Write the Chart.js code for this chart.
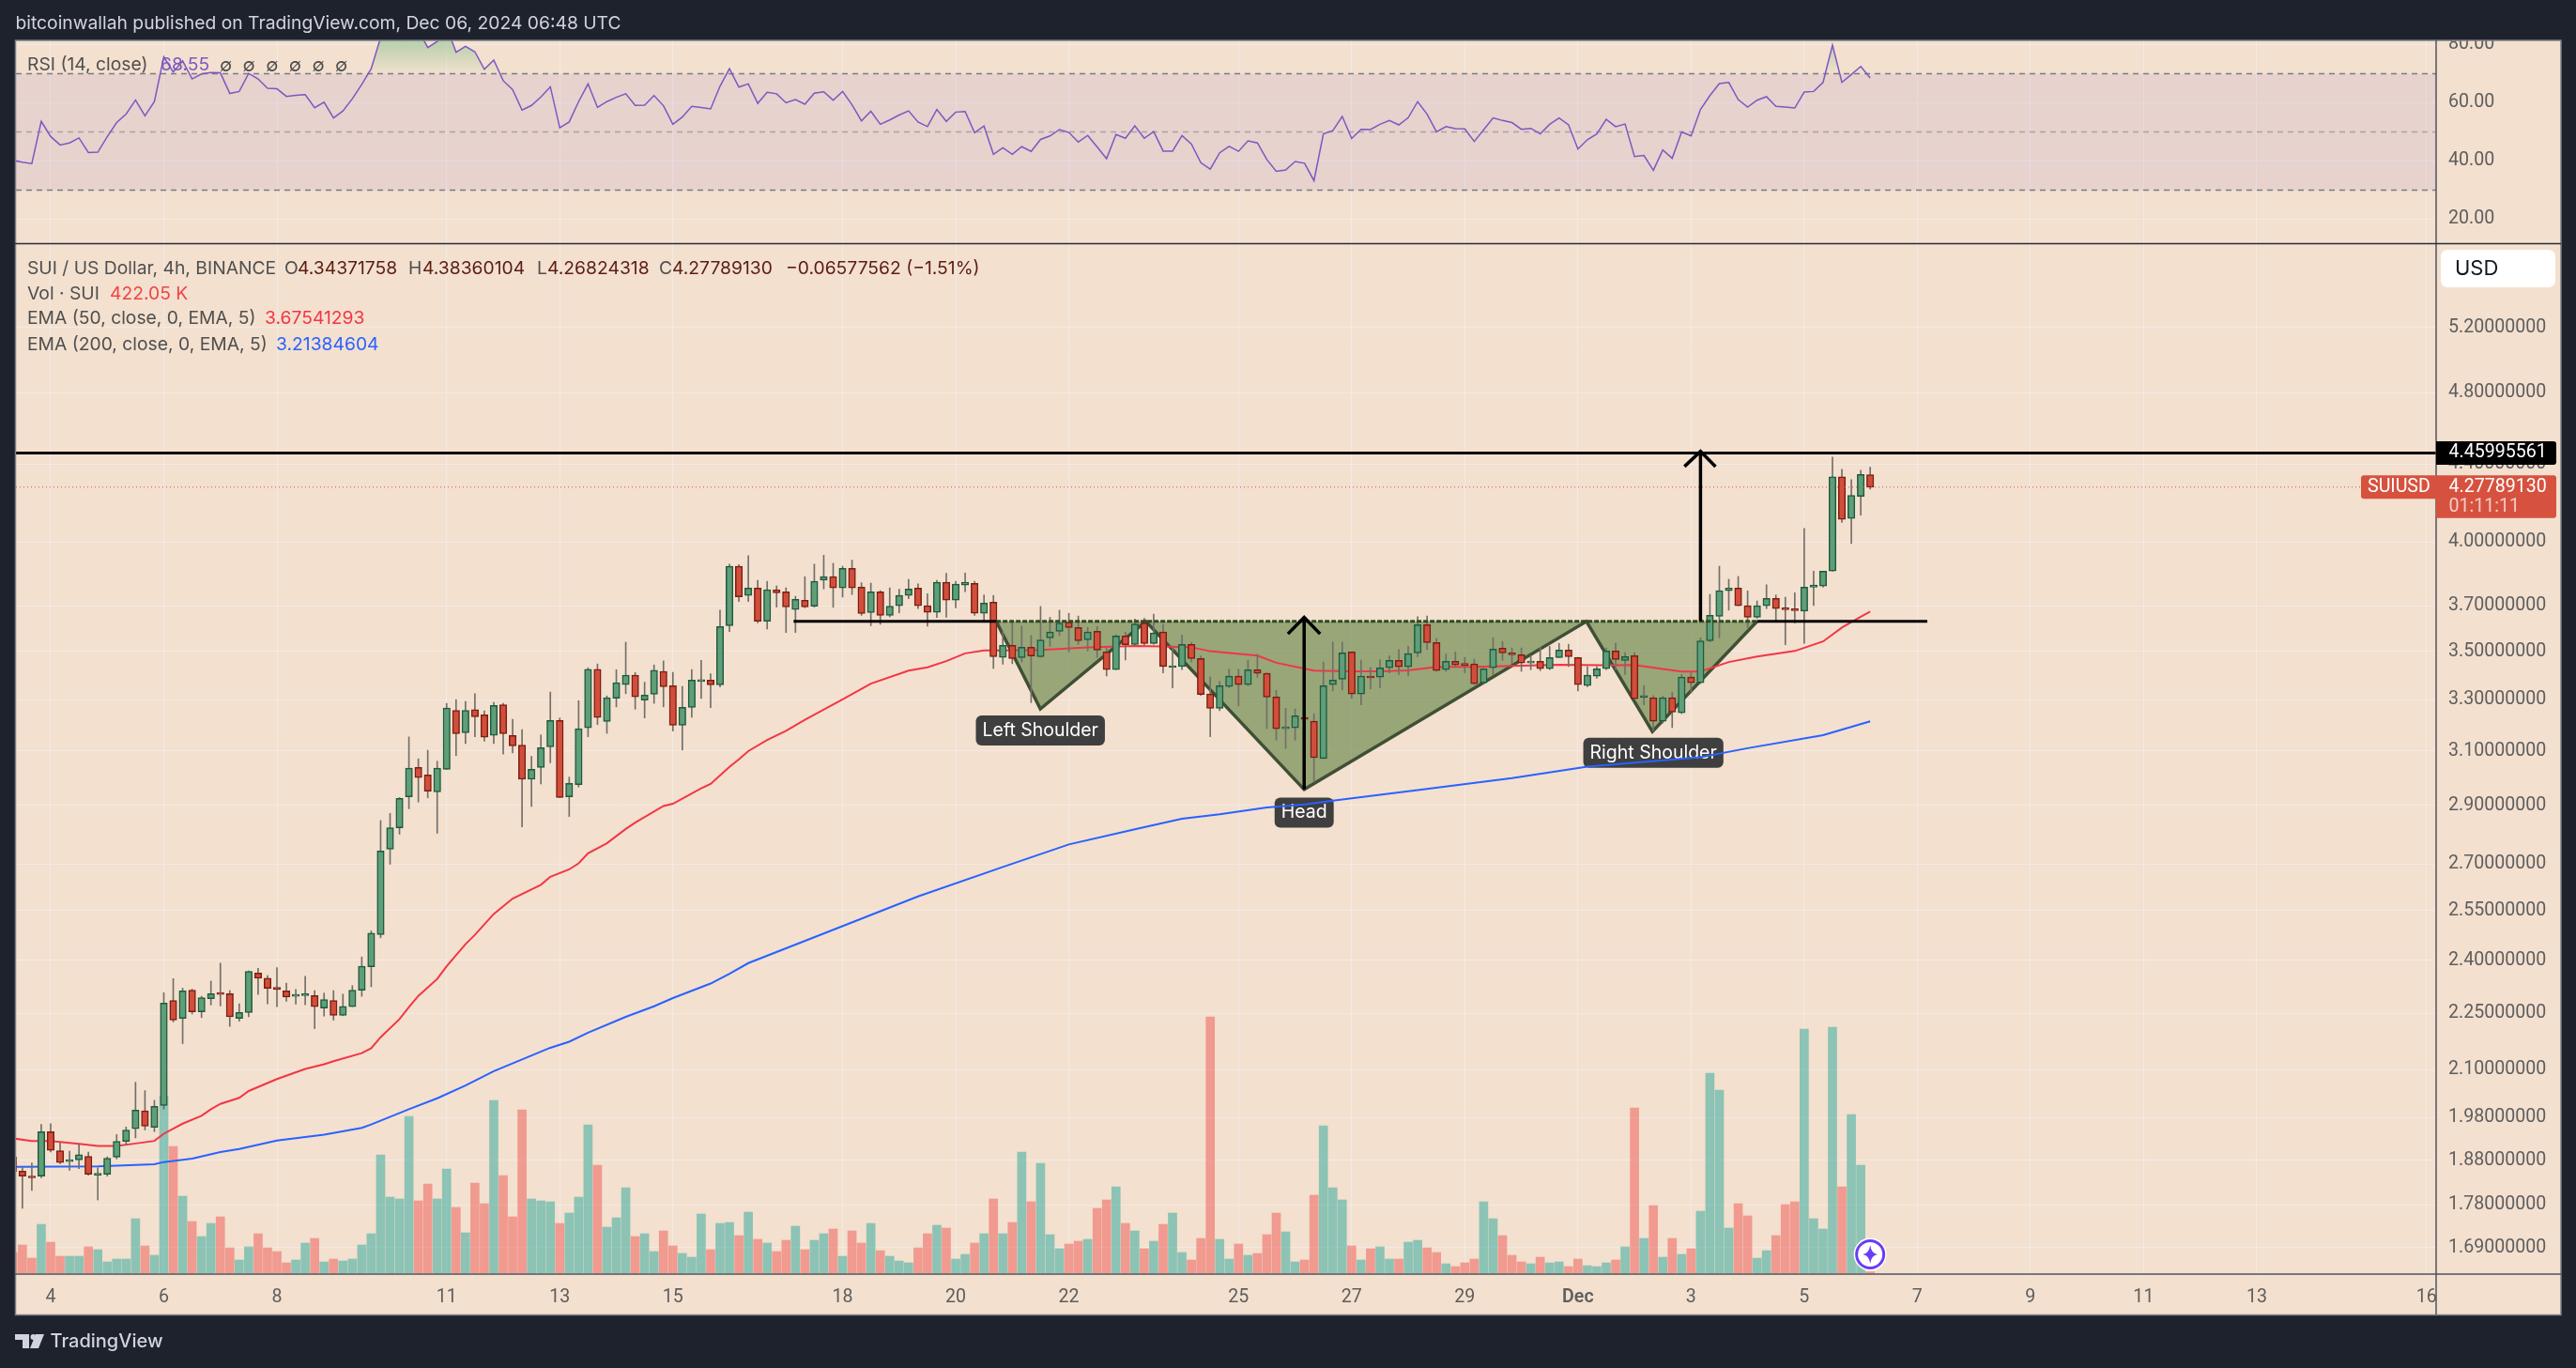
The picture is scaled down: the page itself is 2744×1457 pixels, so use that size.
<!DOCTYPE html>
<html>
<head>
<meta charset="utf-8">
<title>SUI / US Dollar, 4h</title>
<script src="https://cdn.jsdelivr.net/npm/chart.js@4"></script>
<style>
html, body { margin: 0; padding: 0; background: #1e222d; }
canvas { display: block; }
</style>
</head>
<body>
<canvas id="suiChart" width="2744" height="1457"></canvas>
<script>
// 4h candles, bar 0 is the clipped one at the left edge, bar 16 is Nov 6 00:00
const barOpen = [1.888,1.855,1.842,1.844,1.947,1.902,1.877,1.881,1.889,1.846,1.848,1.887,1.924,1.954,1.997,1.957,2.010,2.285,2.236,2.314,2.254,2.290,2.304,2.304,2.236,2.252,2.363,2.348,2.322,2.312,2.297,2.299,2.299,2.264,2.285,2.244,2.268,2.314,2.381,2.477,2.749,2.822,2.931,3.038,3.010,2.948,3.031,3.257,3.169,3.260,3.239,3.159,3.280,3.159,3.122,2.994,3.038,3.115,3.217,2.931,2.975,3.188,3.425,3.213,3.306,3.361,3.400,3.298,3.322,3.416,3.357,3.198,3.269,3.374,3.380,3.360,3.612,3.884,3.748,3.782,3.632,3.774,3.765,3.684,3.726,3.699,3.818,3.835,3.782,3.874,3.786,3.670,3.765,3.658,3.701,3.748,3.782,3.701,3.671,3.809,3.726,3.796,3.804,3.667,3.717,3.475,3.526,3.474,3.518,3.478,3.558,3.587,3.628,3.604,3.550,3.587,3.498,3.423,3.567,3.530,3.624,3.534,3.584,3.432,3.436,3.530,3.470,3.323,3.265,3.353,3.396,3.361,3.423,3.408,3.311,3.185,3.188,3.229,3.214,3.071,3.361,3.383,3.498,3.323,3.392,3.392,3.431,3.462,3.435,3.494,3.616,3.538,3.423,3.458,3.443,3.447,3.369,3.431,3.514,3.494,3.486,3.451,3.458,3.427,3.474,3.506,3.474,3.357,3.396,3.427,3.502,3.462,3.482,3.309,3.308,3.214,3.308,3.247,3.392,3.369,3.546,3.654,3.770,3.782,3.701,3.649,3.701,3.734,3.686,3.681,3.677,3.786,3.791,3.861,4.332,4.117,4.230,4.3437];
const barHigh = [1.893,1.863,1.874,1.964,1.966,1.920,1.901,1.917,1.899,1.863,1.888,1.940,1.958,2.068,2.047,2.023,2.307,2.347,2.320,2.317,2.297,2.340,2.392,2.313,2.276,2.369,2.377,2.356,2.379,2.334,2.316,2.354,2.313,2.306,2.313,2.303,2.327,2.410,2.488,2.847,2.872,2.928,3.153,3.070,3.102,3.061,3.285,3.300,3.293,3.324,3.255,3.289,3.285,3.222,3.181,3.079,3.161,3.331,3.227,3.002,3.296,3.431,3.447,3.315,3.423,3.540,3.411,3.371,3.443,3.460,3.412,3.354,3.424,3.462,3.406,3.681,3.894,3.892,3.934,3.818,3.813,3.792,3.783,3.744,3.835,3.894,3.937,3.898,3.884,3.913,3.807,3.805,3.770,3.783,3.777,3.822,3.801,3.756,3.818,3.851,3.813,3.852,3.813,3.750,3.748,3.586,3.635,3.610,3.569,3.698,3.649,3.681,3.667,3.655,3.604,3.608,3.515,3.572,3.584,3.641,3.645,3.663,3.617,3.515,3.571,3.538,3.481,3.393,3.374,3.425,3.425,3.463,3.488,3.410,3.338,3.265,3.263,3.278,3.244,3.455,3.541,3.541,3.499,3.463,3.432,3.465,3.481,3.508,3.522,3.652,3.655,3.556,3.489,3.498,3.475,3.467,3.429,3.559,3.543,3.515,3.515,3.482,3.518,3.522,3.535,3.531,3.475,3.436,3.436,3.515,3.535,3.495,3.495,3.358,3.316,3.314,3.330,3.403,3.410,3.559,3.753,3.884,3.823,3.836,3.769,3.723,3.797,3.750,3.740,3.760,4.067,3.861,3.861,4.438,4.372,4.317,4.367,4.3836];
const barLow = [1.850,1.773,1.812,1.840,1.899,1.872,1.857,1.861,1.846,1.791,1.844,1.883,1.916,1.932,1.951,1.947,2.001,2.226,2.168,2.248,2.238,2.273,2.270,2.214,2.228,2.240,2.302,2.276,2.268,2.283,2.275,2.273,2.208,2.242,2.231,2.243,2.268,2.297,2.324,2.467,2.699,2.800,2.888,2.912,2.927,2.803,3.031,3.082,3.128,3.154,3.137,3.128,3.088,3.092,2.825,2.896,2.977,3.055,2.928,2.861,2.966,3.154,3.201,3.167,3.271,3.324,3.262,3.227,3.285,3.271,3.176,3.103,3.230,3.305,3.268,3.351,3.586,3.720,3.720,3.624,3.597,3.695,3.582,3.582,3.692,3.695,3.778,3.694,3.740,3.752,3.658,3.612,3.618,3.651,3.669,3.733,3.688,3.610,3.648,3.649,3.691,3.765,3.658,3.627,3.428,3.446,3.448,3.455,3.288,3.475,3.522,3.569,3.498,3.530,3.502,3.475,3.397,3.423,3.464,3.526,3.529,3.531,3.410,3.348,3.423,3.455,3.317,3.154,3.256,3.348,3.275,3.357,3.391,3.186,3.141,3.109,3.141,3.099,2.984,3.071,3.335,3.339,3.305,3.279,3.344,3.348,3.410,3.403,3.397,3.478,3.508,3.416,3.416,3.433,3.410,3.361,3.365,3.403,3.462,3.449,3.416,3.423,3.419,3.423,3.474,3.436,3.335,3.352,3.387,3.423,3.423,3.403,3.301,3.279,3.177,3.207,3.189,3.244,3.327,3.365,3.542,3.559,3.681,3.701,3.604,3.645,3.688,3.635,3.529,3.624,3.535,3.702,3.786,3.860,4.097,3.993,4.134,4.2682];
const barClose = [1.854,1.844,1.840,1.947,1.903,1.875,1.879,1.893,1.848,1.849,1.885,1.924,1.951,1.999,1.960,2.008,2.278,2.231,2.312,2.254,2.293,2.304,2.302,2.240,2.252,2.368,2.348,2.319,2.316,2.295,2.299,2.304,2.268,2.288,2.244,2.269,2.314,2.383,2.481,2.743,2.822,2.925,3.035,3.000,2.951,3.035,3.266,3.166,3.257,3.232,3.152,3.277,3.166,3.119,2.994,3.031,3.112,3.217,2.928,2.979,3.185,3.425,3.229,3.308,3.369,3.400,3.311,3.318,3.421,3.352,3.198,3.269,3.380,3.376,3.360,3.608,3.884,3.742,3.782,3.632,3.774,3.760,3.696,3.730,3.696,3.813,3.835,3.782,3.874,3.782,3.666,3.765,3.658,3.699,3.748,3.777,3.701,3.671,3.809,3.726,3.800,3.809,3.667,3.713,3.478,3.526,3.470,3.518,3.481,3.550,3.584,3.624,3.604,3.546,3.584,3.506,3.423,3.567,3.529,3.620,3.534,3.580,3.436,3.436,3.530,3.470,3.321,3.265,3.357,3.396,3.361,3.423,3.408,3.310,3.185,3.192,3.236,3.221,3.074,3.357,3.380,3.494,3.323,3.396,3.389,3.431,3.462,3.435,3.491,3.616,3.538,3.419,3.458,3.443,3.441,3.365,3.427,3.510,3.494,3.486,3.451,3.454,3.427,3.474,3.506,3.478,3.361,3.400,3.427,3.502,3.466,3.478,3.304,3.311,3.214,3.308,3.250,3.392,3.369,3.546,3.658,3.770,3.782,3.701,3.649,3.701,3.734,3.688,3.683,3.679,3.786,3.796,3.861,4.332,4.113,4.235,4.345,4.2779];
const volume = [6.6,9.0,4.8,15.6,9.9,5.4,5.4,5.4,8.4,7.5,3.6,4.5,4.5,17.4,8.7,5.7,56.6,40.5,24.6,16.5,11.7,15.9,18.0,8.1,4.2,8.4,12.6,8.1,6.9,3.3,4.2,9.6,11.1,3.6,4.5,3.9,4.5,9.0,12.6,37.8,24.3,23.7,50.1,23.1,28.5,23.7,33.3,21.0,12.9,28.8,22.2,55.2,31.2,18.0,52.2,23.7,23.1,22.8,15.9,19.2,24.3,47.4,34.5,14.7,17.7,27.3,11.7,12.6,6.9,13.5,8.7,6.3,5.1,18.9,7.5,15.9,16.2,12.0,19.5,10.8,9.6,6.9,10.5,15.0,7.5,10.5,12.6,14.1,5.4,13.5,9.6,15.9,7.2,5.4,3.9,3.3,8.1,12.6,15.3,14.4,4.5,6.0,9.6,12.6,23.7,12.6,16.2,38.7,22.8,35.1,12.3,7.8,9.3,10.2,10.8,20.7,23.4,27.6,15.9,13.5,7.8,10.2,15.6,19.2,6.6,4.2,11.1,81.9,10.8,4.5,9.3,5.7,6.3,12.3,19.2,13.2,3.6,4.2,24.9,47.1,27.3,23.4,8.7,4.2,7.8,8.4,4.5,4.5,9.9,10.5,8.1,6.6,3.0,2.1,3.3,4.5,22.8,17.4,12.0,5.7,3.6,3.0,5.1,3.3,3.6,2.1,4.5,2.4,2.1,3.3,4.2,8.4,52.8,11.1,21.6,5.1,11.1,6.0,7.8,19.8,63.9,58.5,14.4,22.2,18.3,4.8,7.2,12.0,21.9,22.8,78.0,17.4,14.1,78.6,27.6,50.7,34.5,0.42];
const rsiValues = [40.2,39.6,39.1,53.6,48.4,45.5,46.2,47.9,42.9,43.0,48.3,53.2,56.1,60.9,55.5,60.4,75.8,70.6,74.4,68.2,69.9,70.4,70.3,63.2,63.9,70.1,68.2,65.0,64.8,62.2,62.6,62.8,58.3,60.2,54.8,57.2,61.4,66.3,71.7,82.5,88.0,89.0,90.0,85.0,79.0,81.1,86.0,77.4,79.4,77.5,71.5,74.7,67.6,64.5,57.5,59.1,62.0,65.5,51.4,53.4,60.4,66.5,58.4,60.4,61.9,63.1,59.1,59.2,62.5,59.0,52.6,55.1,58.8,58.4,57.9,65.7,71.7,65.4,66.5,59.8,63.6,63.1,60.0,61.1,59.5,63.3,63.8,60.9,63.9,59.3,53.8,57.1,52.6,54.1,55.8,57.2,53.4,51.8,57.7,53.6,56.8,57.0,49.7,52.0,42.3,44.5,42.3,44.9,43.3,47.4,48.6,50.8,49.8,46.5,48.8,44.8,40.8,49.1,47.8,52.1,47.8,50.1,43.4,43.4,48.7,45.8,39.4,37.2,42.8,45.0,43.3,46.9,46.2,40.5,36.4,36.9,39.8,39.2,33.2,49.3,50.4,55.3,47.7,50.9,50.8,52.6,53.9,52.4,54.9,60.4,56.1,50.0,51.8,51.1,51.0,46.7,50.7,54.8,53.9,53.2,50.9,51.2,49.3,52.6,54.8,52.4,44.1,47.3,49.3,54.3,51.8,52.7,41.5,41.9,36.8,43.8,40.9,50.0,48.6,57.7,62.5,66.6,67.0,61.1,58.5,60.9,62.1,58.8,58.5,58.2,63.7,63.9,67.0,79.8,67.0,69.7,72.5,68.55];

const ema50Bars = [0,2,4,7,9,11,13,15,16,18,20,21,22,24,25,28,31,33,34,37,38,39,41,42,43,45,46,48,49,51,53,56,57,59,60,61,63,65,66,69,70,73,74,76,77,78,80,82,84,88,91,95,97,99,101,103,105,109,114,119,122,125,127,132,134,138,142,145,148,151,155,159,164,169,172,175,177,179,182,185,189,192,194,196,197];
const ema50Values = [1.931,1.925,1.925,1.918,1.913,1.913,1.919,1.925,1.942,1.966,1.985,2.001,2.014,2.029,2.046,2.076,2.102,2.114,2.122,2.143,2.156,2.185,2.234,2.267,2.298,2.346,2.383,2.448,2.476,2.540,2.588,2.632,2.658,2.682,2.702,2.735,2.769,2.818,2.840,2.898,2.906,2.961,2.977,3.040,3.068,3.099,3.141,3.177,3.220,3.301,3.365,3.419,3.433,3.459,3.492,3.504,3.504,3.506,3.518,3.524,3.522,3.518,3.501,3.482,3.452,3.419,3.416,3.416,3.420,3.435,3.435,3.439,3.444,3.442,3.443,3.426,3.415,3.415,3.455,3.478,3.502,3.543,3.604,3.652,3.675];
const ema200Bars = [0,9,15,16,19,22,24,28,33,37,38,42,45,48,51,57,59,61,65,68,70,74,76,78,86,96,105,112,119,124,128,133,137,140,149,159,167,179,184,192,197];
const ema200Values = [1.865,1.866,1.871,1.876,1.884,1.899,1.906,1.926,1.940,1.956,1.964,2.001,2.028,2.060,2.096,2.157,2.173,2.197,2.240,2.269,2.292,2.333,2.361,2.392,2.480,2.595,2.690,2.765,2.817,2.853,2.869,2.893,2.904,2.917,2.955,2.998,3.041,3.076,3.110,3.160,3.214];

const priceTicks = [5.2,4.8,4.4,4.0,3.7,3.5,3.3,3.1,2.9,2.7,2.55,2.4,2.25,2.1,1.98,1.88,1.78,1.69];
const rsiTicks = [20,40,60,80];
const rsiLevels = [70,50,30];
const dayTickBars = [4,16,28,46,58,70,88,100,112,130,142,154,166,178,190,202,214,226,238,256];
const dayTickLabels = ['4','6','8','11','13','15','18','20','22','25','27','29','Dec','3','5','7','9','11','13','16'];

const targetPrice = 4.45995561;
const lastClose = 4.2778913;
const neckPrice = 3.631;
const shapeBars = [104.29,108.98,120.17,136.96,166.9,173.9,185.0];
const shapePrices = [3.631,3.263,3.631,2.957,3.631,3.174,3.631];
const shapeLabels = ['Left Shoulder','Head','Right Shoulder'];
const shapeLabelBars = [108.98,136.96,174.0];
const shapeLabelPrices = [3.178,2.875,3.093];
const arrowOneBars = [135.24,136.96,138.65,136.96,136.96,136.96];
const arrowOnePrices = [3.576,3.649,3.576,null,3.649,2.957];
const arrowTwoBars = [177.3,179.0,180.6,179.0,179.0,179.0];
const arrowTwoPrices = [4.387,4.469,4.387,null,4.469,3.631];

const frameBg = '#f3e0cf';
const darkBg = '#1e222d';
const gridColor = 'rgba(240,243,250,0.55)';
const legendFont = '19.3px Inter';
const axisFont = { family: 'Roboto', size: 19.6 };
const xMin = 0.317, xMax = 257.03;

function pts(xs, ys) {
    return xs.map((x, i) => ({ x: x, y: ys[i] }));
}

function flat(value) {
    return [{ x: xMin, y: value }, { x: xMax, y: value }];
}

const isUp = barClose.map((c, i) => c >= barOpen[i]);
const bars = barOpen.map((o, i) => i);

const ctx = document.getElementById('suiChart').getContext('2d');

const overbought = ctx.createLinearGradient(0, 43, 0, 79);
overbought.addColorStop(0, 'rgba(120,190,130,0.5)');
overbought.addColorStop(1, 'rgba(120,190,130,0)');

function lineSet(label, data, yAxisID, color, width, order, extra) {
    return Object.assign({
        type: 'line', label: label, data: data, yAxisID: yAxisID, xAxisID: 'x',
        borderColor: color, borderWidth: width, pointRadius: 0, tension: 0,
        fill: false, spanGaps: false, order: order
    }, extra || {});
}

function text(c, str, x, y, color, font, align) {
    c.font = font || legendFont;
    c.fillStyle = color;
    c.textAlign = align || 'left';
    c.textBaseline = 'middle';
    c.fillText(str, x, y);
}

const labelBoxes = {
    id: 'labelBoxes',
    afterLayout(chart) {
        // both axes sit in one column, the rsi labels get clipped to their scale box otherwise
        const rsi = chart.scales.rsi, price = chart.scales.price;
        rsi.left = price.left;
        rsi.right = price.right;
        rsi.width = price.width;
    },
    beforeDraw(chart) {
        const c = chart.ctx;
        c.save();
        c.fillStyle = darkBg;
        c.fillRect(0, 0, 2744, 1457);
        c.fillStyle = frameBg;
        c.fillRect(16, 43, 2712, 1357);
        c.restore();
    },
    beforeDatasetsDraw(chart) {
        const c = chart.ctx;
        c.save();
        shapeLabels.forEach((label, i) => {
            const x = chart.scales.x.getPixelForValue(shapeLabelBars[i]);
            const y = chart.scales.price.getPixelForValue(shapeLabelPrices[i]);
            c.font = '19.5px Inter';
            const w = c.measureText(label).width + 14;
            c.fillStyle = '#3f3f3f';
            c.beginPath();
            c.roundRect(x - w / 2, y - 16, w, 32, 6);
            c.fill();
            text(c, label, x, y, '#ffffff', '19.5px Inter', 'center');
        });
        c.restore();
    },
    afterDraw(chart) {
        const c = chart.ctx;
        const price = chart.scales.price;
        c.save();

        // cover what sticks out of the frame
        c.fillStyle = darkBg;
        c.fillRect(0, 0, 2744, 43);

        c.strokeStyle = '#7d7f85';
        c.lineWidth = 1.5;
        c.strokeRect(16.5, 43, 2711.5, 1357.5);
        c.strokeStyle = '#50535e';
        c.lineWidth = 1.5;
        c.beginPath();
        c.moveTo(2595, 43); c.lineTo(2595, 1400);
        c.moveTo(16, 1357); c.lineTo(2728, 1357);
        c.stroke();
        c.strokeStyle = '#2a2e39';
        c.beginPath();
        c.moveTo(16, 259.5); c.lineTo(2728, 259.5);
        c.stroke();

        text(c, 'bitcoinwallah published on TradingView.com, Dec 06, 2024 06:48 UTC', 16.5, 25, '#d1d4dc');

        const grey = '#4f4f4f', dark = '#5b1d12';
        text(c, 'RSI (14, close)', 29, 69, grey);
        text(c, '68.55', 171, 69, '#7e57c2');
        for (let i = 0; i < 6; i++) text(c, '\u2205', 234 + i * 24.6, 70, grey);

        text(c, 'SUI / US Dollar, 4h, BINANCE', 29, 286.5, grey);
        text(c, 'O', 303, 286.5, grey); text(c, '4.34371758', 317, 286.5, dark);
        text(c, 'H', 435, 286.5, grey); text(c, '4.38360104', 450, 286.5, dark);
        text(c, 'L', 572, 286.5, grey); text(c, '4.26824318', 583, 286.5, dark);
        text(c, 'C', 702, 286.5, grey); text(c, '4.27789130', 716, 286.5, dark);
        text(c, '\u22120.06577562 (\u22121.51%)', 837, 286.5, dark);
        text(c, 'Vol \u00b7 SUI', 29, 313, grey);
        text(c, '422.05 K', 117, 313, '#f04545');
        text(c, 'EMA (50, close, 0, EMA, 5)', 29, 339, grey);
        text(c, '3.67541293', 282, 339, '#f23645');
        text(c, 'EMA (200, close, 0, EMA, 5)', 29, 367, grey);
        text(c, '3.21384604', 294, 367, '#2962ff');

        // USD button
        c.fillStyle = '#ffffff';
        c.beginPath();
        c.roundRect(2600, 266, 122, 40, 7);
        c.fill();
        text(c, 'USD', 2615, 286.5, '#131722', '22px Inter');

        // price tags on the axis
        const tagFont = '19.6px Roboto';
        const targetY = price.getPixelForValue(targetPrice);
        c.fillStyle = '#000000';
        c.beginPath();
        c.roundRect(2595, targetY - 12.5, 128, 25, [0, 3, 3, 0]);
        c.fill();
        text(c, targetPrice.toFixed(8), 2608.5, targetY, '#ffffff', tagFont);

        const lastY = price.getPixelForValue(lastClose);
        c.fillStyle = '#d6523f';
        c.beginPath();
        c.roundRect(2515, lastY - 12.5, 80, 25, [3, 0, 0, 3]);
        c.fill();
        c.beginPath();
        c.roundRect(2595, lastY - 12.5, 128, 45.5, [0, 3, 3, 0]);
        c.fill();
        text(c, 'SUIUSD', 2522, lastY, '#ffffff', tagFont);
        text(c, lastClose.toFixed(8), 2608.5, lastY, '#ffffff', tagFont);
        text(c, '01:11:11', 2608.5, lastY + 21, 'rgba(255,255,255,0.7)', tagFont);

        // spark badge at the last bar
        const sx = chart.scales.x.getPixelForValue(197), sy = 1336;
        c.fillStyle = '#ffffff';
        c.beginPath(); c.arc(sx, sy, 17.5, 0, Math.PI * 2); c.fill();
        c.strokeStyle = '#6a3df5';
        c.lineWidth = 3;
        c.beginPath(); c.arc(sx, sy, 14.5, 0, Math.PI * 2); c.stroke();
        c.fillStyle = '#6a3df5';
        c.beginPath();
        c.moveTo(sx, sy - 10);
        c.quadraticCurveTo(sx + 1, sy - 1, sx + 8, sy);
        c.quadraticCurveTo(sx + 1, sy + 1, sx, sy + 10);
        c.quadraticCurveTo(sx - 1, sy + 1, sx - 8, sy);
        c.quadraticCurveTo(sx - 1, sy - 1, sx, sy - 10);
        c.fill();

        // footer logo
        c.fillStyle = '#d1d4dc';
        c.fillRect(16, 1421, 15, 6);
        c.fillRect(24, 1421, 7, 15);
        c.beginPath(); c.arc(35.5, 1424, 3, 0, Math.PI * 2); c.fill();
        c.beginPath();
        c.moveTo(38, 1421); c.lineTo(47, 1421); c.lineTo(41, 1436); c.lineTo(32, 1436);
        c.closePath();
        c.fill();
        text(c, 'TradingView', 53.5, 1429, '#d1d4dc', '500 20px Inter');
        c.restore();
    }
};

const myChart = new Chart(ctx, {
    type: 'bar',
    data: {
        datasets: [
            // RSI pane
            lineSet('band', flat(70), 'rsi', '#787b86', 1.5, 100, {
                borderDash: [6, 5], fill: { value: 30 }, backgroundColor: 'rgba(126,87,194,0.1)'
            }),
            lineSet('mid', flat(rsiLevels[1]), 'rsi', 'rgba(120,123,134,0.55)', 1.5, 99, { borderDash: [6, 5] }),
            lineSet('low', flat(rsiLevels[2]), 'rsi', '#787b86', 1.5, 99, { borderDash: [6, 5] }),
            lineSet('RSI', pts(bars, rsiValues), 'rsi', '#7e57c2', 1.5, 90, {
                fill: { target: { value: 70 }, above: overbought, below: 'rgba(0,0,0,0)' }
            }),

            // head and shoulders shape
            lineSet('shape', pts(shapeBars, shapePrices), 'price', '#3f4f35', 3.5, 80, {
                fill: { value: neckPrice }, backgroundColor: 'rgba(76,119,50,0.55)'
            }),

            {
                label: 'Volume', yAxisID: 'vol', xAxisID: 'x', order: 70, barThickness: 9, grouped: false,
                data: pts(bars, volume),
                backgroundColor: isUp.map(u => u ? 'rgba(38,166,154,0.5)' : 'rgba(239,83,80,0.5)')
            },

            lineSet('EMA 50', pts(ema50Bars, ema50Values), 'price', '#f23645', 2, 60),
            lineSet('EMA 200', pts(ema200Bars, ema200Values), 'price', '#2962ff', 2, 60),

            {
                label: 'Wicks', yAxisID: 'price', xAxisID: 'x', order: 50, barThickness: 1, grouped: false,
                data: bars.map(i => ({ x: i, y: [barLow[i], barHigh[i]] })),
                backgroundColor: '#736f69'
            },
            {
                label: 'Bodies', yAxisID: 'price', xAxisID: 'x', order: 40, barThickness: 7.5, grouped: false,
                minBarLength: 2, borderSkipped: false, borderWidth: 1.5,
                data: bars.map(i => ({ x: i, y: [Math.min(barOpen[i], barClose[i]), Math.max(barOpen[i], barClose[i])] })),
                backgroundColor: isUp.map(u => u ? '#5f9e78' : '#d24e3c'),
                borderColor: isUp.map(u => u ? '#1d5b3f' : '#7c1e10')
            },

            lineSet('neck dash', [{ x: 104.29, y: neckPrice }, { x: 185.0, y: neckPrice }], 'price', '#2f4a22', 3, 35, { borderDash: [5, 2] }),
            lineSet('neck left', [{ x: 82.8, y: neckPrice }, { x: 104.29, y: neckPrice }], 'price', '#000000', 3, 30),
            lineSet('neck right', [{ x: 185.0, y: neckPrice }, { x: 203.06, y: neckPrice }], 'price', '#000000', 3, 30),
            lineSet('target', flat(targetPrice), 'price', '#000000', 3, 30),
            lineSet('last', [{ x: xMin, y: lastClose }, { x: 249.1, y: lastClose }], 'price', '#d6523f', 1, 30, { borderDash: [1, 3] }),
            lineSet('arrow 1', pts(arrowOneBars, arrowOnePrices), 'price', '#000000', 3.5, 20),
            lineSet('arrow 2', pts(arrowTwoBars, arrowTwoPrices), 'price', '#000000', 3.5, 20)
        ]
    },
    plugins: [labelBoxes],
    options: {
        responsive: false,
        animation: false,
        devicePixelRatio: 1,
        events: [],
        layout: { padding: { left: 17, top: 43, right: 16, bottom: 57 } },
        plugins: { legend: { display: false }, tooltip: { enabled: false } },
        scales: {
            x: {
                type: 'linear', min: xMin, max: xMax, bounds: 'data', offset: false,
                afterBuildTicks: scale => { scale.ticks = dayTickBars.map(v => ({ value: v })); },
                afterFit: scale => { scale.height = 43; scale.paddingLeft = 0; scale.paddingRight = 0; },
                grid: { color: gridColor, drawTicks: false, offset: false },
                border: { display: false },
                ticks: {
                    autoSkip: false, maxRotation: 0, padding: 13, color: '#5e5e5e',
                    font: c => ({ family: 'Roboto', size: 19.6, weight: c.tick && c.tick.label === 'Dec' ? '600' : '400' }),
                    callback: (v, i) => dayTickLabels[i]
                }
            },
            rsi: {
                type: 'linear', position: 'right', weight: -1, min: -342.8, max: 81.46, bounds: 'data',
                afterBuildTicks: scale => { scale.ticks = rsiTicks.map(v => ({ value: v })); },
                afterFit: scale => { scale.width = 0; },
                grid: { color: gridColor, drawTicks: false },
                border: { display: false },
                ticks: {
                    autoSkip: false, padding: 13, color: '#5e5e5e', font: axisFont,
                    callback: v => Number(v).toFixed(2)
                }
            },
            price: {
                type: 'logarithmic', position: 'right', weight: 0, min: 1.636, max: 7.383, bounds: 'data',
                afterBuildTicks: scale => { scale.ticks = priceTicks.map(v => ({ value: v })); },
                afterFit: scale => { scale.width = 133; },
                grid: { color: gridColor, drawTicks: false },
                border: { display: false },
                ticks: {
                    autoSkip: false, padding: 13, color: '#5e5e5e', font: axisFont,
                    callback: v => Number(v).toFixed(8)
                }
            },
            vol: { type: 'linear', position: 'left', display: false, min: -0.3, max: 393.9, bounds: 'data' }
        }
    }
});
</script>
</body>
</html>
